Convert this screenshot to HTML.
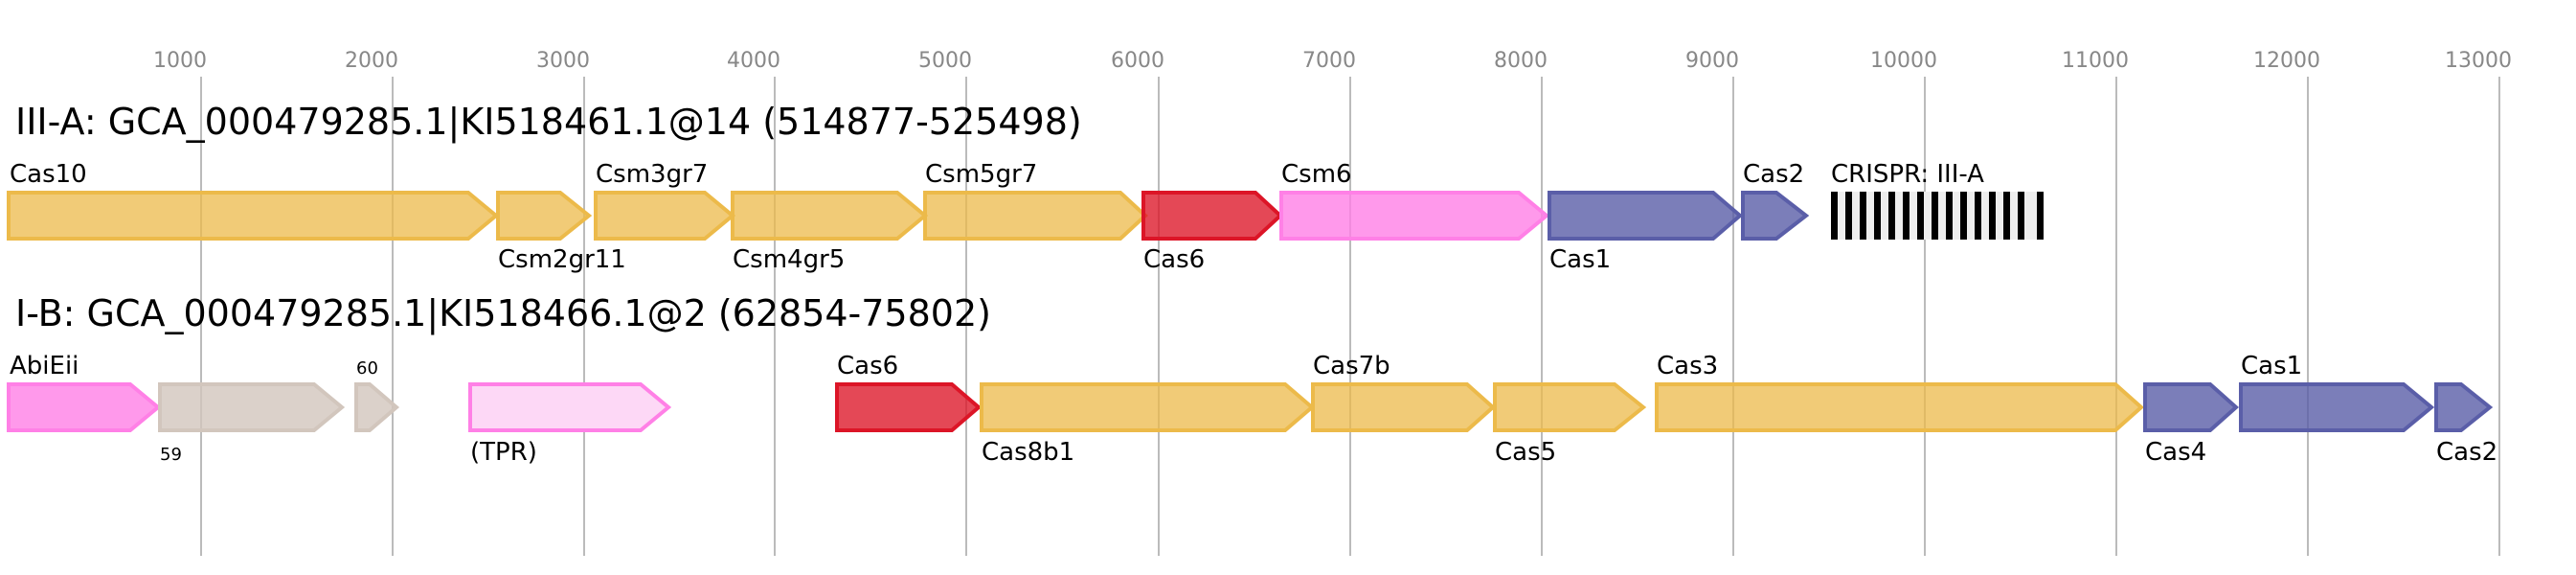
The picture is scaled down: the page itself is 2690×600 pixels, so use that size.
<!DOCTYPE html>
<html><head><meta charset="utf-8"><style>
html,body{margin:0;padding:0;background:#fff;}
svg{display:block;font-family:"DejaVu Sans","Liberation Sans",sans-serif;}
.t{font-size:22px;fill:#888;text-anchor:middle}
.g{stroke:#bbb;stroke-width:2}
.l{font-size:26px;fill:#000}
.h{font-size:38px;fill:#000}
.s{font-size:18px;fill:#000}
.y{fill:#ecba4a;fill-opacity:.75;stroke:#ecba4a;stroke-width:4}
.r{fill:#dc1527;fill-opacity:.78;stroke:#dc1527;stroke-width:4}
.p{fill:#ff80e6;fill-opacity:.8;stroke:#ff80e6;stroke-width:4}
.u{fill:#5a5ea8;fill-opacity:.8;stroke:#5a5ea8;stroke-width:4}
.b{fill:#d2c6bd;fill-opacity:.8;stroke:#d2c6bd;stroke-width:4}
.q{fill:#fdd8f6;stroke:#ff80e6;stroke-width:4}
</style></head><body>
<svg width="2690" height="600" viewBox="0 0 2690 600">
<g class="g">
<line x1="210" y1="80" x2="210" y2="580"/><line x1="410" y1="80" x2="410" y2="580"/>
<line x1="610" y1="80" x2="610" y2="580"/><line x1="809" y1="80" x2="809" y2="580"/>
<line x1="1009" y1="80" x2="1009" y2="580"/><line x1="1210" y1="80" x2="1210" y2="580"/>
<line x1="1410" y1="80" x2="1410" y2="580"/><line x1="1610" y1="80" x2="1610" y2="580"/>
<line x1="1810" y1="80" x2="1810" y2="580"/><line x1="2010" y1="80" x2="2010" y2="580"/>
<line x1="2210" y1="80" x2="2210" y2="580"/><line x1="2410" y1="80" x2="2410" y2="580"/>
<line x1="2610" y1="80" x2="2610" y2="580"/>
</g>
<g class="t">
<text x="188" y="70">1000</text><text x="388" y="70">2000</text><text x="588" y="70">3000</text>
<text x="787" y="70">4000</text><text x="987" y="70">5000</text><text x="1188" y="70">6000</text>
<text x="1388" y="70">7000</text><text x="1588" y="70">8000</text><text x="1788" y="70">9000</text>
<text x="1988" y="70">10000</text><text x="2188" y="70">11000</text><text x="2388" y="70">12000</text>
<text x="2588" y="70">13000</text>
</g>
<text class="h" x="16" y="140">III-A: GCA_000479285.1|KI518461.1@14 (514877-525498)</text>
<polygon class="y" points="9,201 489,201 518,225 489,249 9,249"/>
<polygon class="y" points="520,201 585,201 615,225 585,249 520,249"/>
<polygon class="y" points="622,201 736,201 765,225 736,249 622,249"/>
<polygon class="y" points="765,201 937,201 966,225 937,249 765,249"/>
<polygon class="y" points="966,201 1170,201 1196,225 1170,249 966,249"/>
<polygon class="r" points="1194,201 1311,201 1337,225 1311,249 1194,249"/>
<polygon class="p" points="1338,201 1586,201 1615,225 1586,249 1338,249"/>
<polygon class="u" points="1618,201 1789,201 1817,225 1789,249 1618,249"/>
<polygon class="u" points="1820,201 1855,201 1886,225 1855,249 1820,249"/>
<rect x="1912" y="200" width="222" height="50" fill="#eee"/>
<g fill="#000">
<rect x="1912" y="200" width="7" height="50"/><rect x="1927" y="200" width="7" height="50"/>
<rect x="1942" y="200" width="7" height="50"/><rect x="1957" y="200" width="7" height="50"/>
<rect x="1972" y="200" width="7" height="50"/><rect x="1987" y="200" width="7" height="50"/>
<rect x="2002" y="200" width="7" height="50"/><rect x="2017" y="200" width="7" height="50"/>
<rect x="2032" y="200" width="7" height="50"/><rect x="2047" y="200" width="7" height="50"/>
<rect x="2062" y="200" width="7" height="50"/><rect x="2077" y="200" width="7" height="50"/>
<rect x="2092" y="200" width="7" height="50"/><rect x="2107" y="200" width="7" height="50"/>
<rect x="2127" y="200" width="7" height="50"/>
</g>
<g class="l">
<text x="10" y="190">Cas10</text><text x="622" y="190">Csm3gr7</text><text x="966" y="190">Csm5gr7</text>
<text x="1338" y="190">Csm6</text><text x="1820" y="190">Cas2</text><text x="1912" y="190">CRISPR: III-A</text>
<text x="520" y="279">Csm2gr11</text><text x="765" y="279">Csm4gr5</text><text x="1194" y="279">Cas6</text>
<text x="1618" y="279">Cas1</text>
</g>
<text class="h" x="16" y="340">I-B: GCA_000479285.1|KI518466.1@2 (62854-75802)</text>
<polygon class="p" points="9,401 136,401 165,425 136,449 9,449"/>
<polygon class="b" points="167,401 328,401 357,425 328,449 167,449"/>
<polygon class="b" points="372,401 386,401 414,425 386,449 372,449"/>
<polygon class="q" points="491,401 669,401 698,425 669,449 491,449"/>
<polygon class="r" points="874,401 994,401 1022,425 994,449 874,449"/>
<polygon class="y" points="1025,401 1342,401 1370,425 1342,449 1025,449"/>
<polygon class="y" points="1371,401 1532,401 1559,425 1532,449 1371,449"/>
<polygon class="y" points="1561,401 1686,401 1716,425 1686,449 1561,449"/>
<polygon class="y" points="1730,401 2209,401 2236,425 2209,449 1730,449"/>
<polygon class="u" points="2240,401 2308,401 2335,425 2308,449 2240,449"/>
<polygon class="u" points="2340,401 2510,401 2539,425 2510,449 2340,449"/>
<polygon class="u" points="2544,401 2570,401 2600,425 2570,449 2544,449"/>
<g class="l">
<text x="10" y="390">AbiEii</text><text x="874" y="390">Cas6</text><text x="1371" y="390">Cas7b</text>
<text x="1730" y="390">Cas3</text><text x="2340" y="390">Cas1</text>
<text x="491" y="480">(TPR)</text><text x="1025" y="480">Cas8b1</text><text x="1561" y="480">Cas5</text>
<text x="2240" y="480">Cas4</text><text x="2544" y="480">Cas2</text>
</g>
<text class="s" x="372" y="390">60</text>
<text class="s" x="167" y="480">59</text>
</svg>
</body></html>
